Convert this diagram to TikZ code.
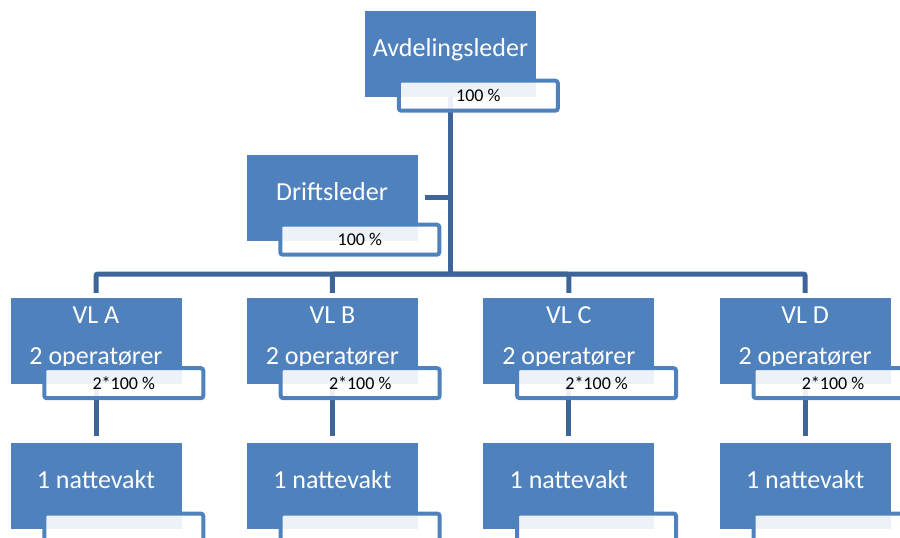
\documentclass[tikz,border=0pt]{standalone}
\usepackage{fontspec}
\setmainfont{Carlito}
\usetikzlibrary{positioning,backgrounds}
\definecolor{boxblue}{HTML}{4F81BD}
\definecolor{linkblue}{HTML}{3E6599}
\tikzset{
  unit/.style={fill=boxblue, text=white, minimum width=171pt, minimum height=86pt,
    inner sep=0pt, font=\fontsize{26}{41}\selectfont, text height=17pt, text depth=12pt},
  vlunit/.style={unit, align=center, text height=58pt},
  share/.style={draw=boxblue, line width=4pt, fill=white, fill opacity=0.9, text opacity=1,
    rounded corners=2.5pt, minimum width=159pt, minimum height=30pt, inner sep=0pt,
    font=\fontsize{18}{20}\selectfont, anchor=north west},
  link/.style={draw=linkblue, line width=5pt, rounded corners=2pt}
}
\begin{document}
\begin{tikzpicture}[x=1pt, y=-1pt]
        \useasboundingbox (0,0) rectangle (900,538);
        \clip (0,0) rectangle (900,538);

        \node [unit] (avd) at (450.5,53.5) {Avdelingsleder};
        \node [share] (avdp) at ([shift={(32,-18)}]avd.south west) {100 \%};

        \node [unit] (drift) at (332,197.5) {Driftsleder};
        \node [share] (driftp) at ([shift={(32,-18)}]drift.south west) {100 \%};

        \node [vlunit] (vla) at (96,341) {VL A\\2 operatører};
        \node [vlunit, right=65pt of vla] (vlb) {VL B\\2 operatører};
        \node [vlunit, right=65pt of vlb] (vlc) {VL C\\2 operatører};
        \node [vlunit, right=65pt of vlc] (vld) {VL D\\2 operatører};

        \foreach \v in {a,b,c,d} {
            \node [share] (vl\v p) at ([shift={(32,-18)}]vl\v.south west) {2*100 \%};
            \node [unit, below=59pt of vl\v] (natt\v) {1 nattevakt};
            \node [share] (natt\v p) at ([shift={(32,-18)}]natt\v.south west) {};
        }

        \begin{scope}[on background layer]
            \coordinate (hub) at (avd.south |- 0,274);
            \draw [link] (avd.south) -- (hub);
            \draw [link] ([xshift=7pt]drift.east) -- (drift.east -| hub);
            \draw [link] ([yshift=5pt]vla.north) |- (hub) -| ([yshift=5pt]vld.north);
            \draw [link] (hub) -| ([yshift=5pt]vlb.north);
            \draw [link] (hub) -| ([yshift=5pt]vlc.north);
            \foreach \v in {a,b,c,d}
                \draw [link] (vl\v.south) -- ([yshift=7pt]natt\v.north);
        \end{scope}

    \end{tikzpicture}
\end{document}
